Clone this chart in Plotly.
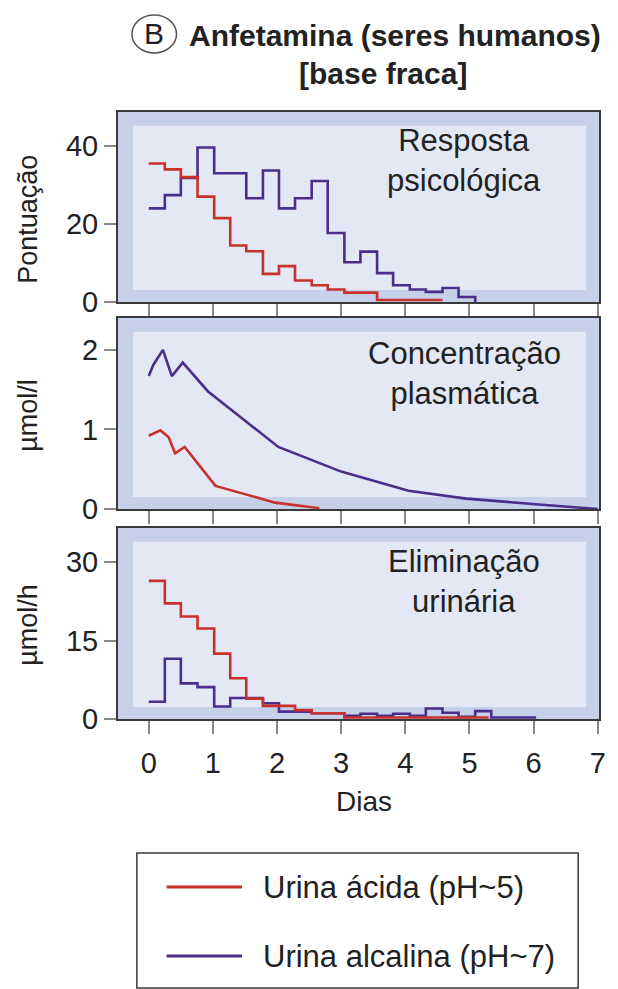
import plotly.graph_objects as go

# ---------------- data ----------------
# Panel 1: psychological response (score), step data (bin start days)
resp_acid_days = [0, 0.25, 0.5, 0.76, 1.02, 1.27, 1.52, 1.78, 2.03, 2.28, 2.54, 2.79, 3.05, 3.56, 4.58]
resp_acid_vals = [35.5, 34, 32, 27, 21.5, 14.5, 13, 7.2, 9.2, 5.5, 4.3, 3.2, 2.4, 0.5, 0.5]
resp_alk_days = [0, 0.25, 0.5, 0.76, 1.02, 1.52, 1.78, 2.03, 2.28, 2.54, 2.79, 3.05, 3.3, 3.56, 3.81,
                 4.07, 4.32, 4.58, 4.83, 5.09]
resp_alk_vals = [24, 27.4, 31.8, 39.6, 33, 26.6, 33.7, 24, 26.6, 31, 17.7, 10.2, 12.9, 7.4, 4.3,
                 3.2, 2.6, 3.6, 1.3, 0]

# Panel 2: plasma concentration (umol/l)
plasma_acid_days = [0, 0.18, 0.31, 0.41, 0.56, 1.04, 1.97, 2.66]
plasma_acid_vals = [0.92, 0.99, 0.90, 0.70, 0.78, 0.29, 0.08, 0.01]
plasma_alk_days = [0, 0.07, 0.22, 0.36, 0.53, 0.92, 2.02, 3.0, 4.05, 4.95, 6.03, 7.0]
plasma_alk_vals = [1.67, 1.81, 2.0, 1.67, 1.84, 1.48, 0.78, 0.47, 0.23, 0.13, 0.06, 0.0]

# Panel 3: urinary elimination (umol/h), step data
urine_acid_days = [0, 0.25, 0.5, 0.76, 1.02, 1.27, 1.52, 1.78, 2.28, 2.54, 3.05, 5.3]
urine_acid_vals = [26.4, 22.1, 19.6, 17.3, 12.5, 7.8, 3.9, 2.5, 1.7, 1.1, 0.3, 0.3]
urine_alk_days = [0, 0.25, 0.5, 0.76, 1.02, 1.27, 1.78, 2.03, 2.54, 3.05, 3.3, 3.56, 3.81, 4.07,
                  4.32, 4.58, 4.83, 5.09, 5.34, 6.04]
urine_alk_vals = [3.3, 11.5, 6.8, 6.1, 2.4, 4.0, 3.0, 1.4, 1.1, 0.6, 1.0, 0.6, 1.0, 0.6,
                  2.0, 1.2, 0.4, 1.5, 0.3, 0.3]

series_names = ["Urina ácida (pH~5)", "Urina alcalina (pH~7)"]
x_ticks = [0, 1, 2, 3, 4, 5, 6, 7]
y1_ticks = [0, 20, 40]
y2_ticks = [0, 1, 2]
y3_ticks = [0, 15, 30]
panel_labels = ["Resposta<br>psicológica", "Concentração<br>plasmática", "Eliminação<br>urinária"]
y_titles = ["Pontuação", "µmol/l", "µmol/h"]

# ---------------- style ----------------
RED = "#c8312c"
PURPLE = "#4b2d8c"
BAND = "#c6d0e8"
INNER = "#e3e8f4"
FRAME = "#3a3a3a"
TICKC = "#888888"
FONT = "Liberation Sans, Arial, sans-serif"
TXT = "#222222"
LW = 2.6

fig = go.Figure()

def add(xs, ys, color, xa, ya, name, group, rank, shape):
    fig.add_trace(go.Scatter(
        x=xs, y=ys, mode="lines", line=dict(color=color, width=LW, shape=shape),
        xaxis=xa, yaxis=ya, name=name, legendgroup=group, legendrank=rank,
        showlegend=False, hoverinfo="skip"))

add(resp_alk_days, resp_alk_vals, PURPLE, "x", "y", series_names[1], "alk", 2, "hv")
add(resp_acid_days, resp_acid_vals, RED, "x", "y", series_names[0], "acid", 1, "hv")
add(plasma_alk_days, plasma_alk_vals, PURPLE, "x2", "y2", series_names[1], "alk", 2, "linear")
add(plasma_acid_days, plasma_acid_vals, RED, "x2", "y2", series_names[0], "acid", 1, "linear")
add(urine_alk_days, urine_alk_vals, PURPLE, "x3", "y3", series_names[1], "alk", 2, "hv")
add(urine_acid_days, urine_acid_vals, RED, "x3", "y3", series_names[0], "acid", 1, "hv")

XR = [-0.48, 7.02]

def xax(anchor, labels):
    return dict(domain=[0, 1], anchor=anchor, range=XR, showgrid=False, zeroline=False,
                showline=True, mirror=True, linecolor=FRAME, linewidth=2,
                ticks="outside", ticklen=13, tickwidth=1.5, tickcolor=TICKC,
                tickvals=x_ticks, showticklabels=labels, ticklabelstandoff=4,
                tickfont=dict(size=29, color=TXT, family=FONT))

def yax(anchor, dom, rng, tv):
    return dict(domain=dom, anchor=anchor, range=rng, showgrid=False, zeroline=False,
                showline=True, mirror=True, linecolor=FRAME, linewidth=2,
                ticks="outside", ticklen=12, tickwidth=1.5, tickcolor=TICKC,
                tickvals=tv, tickfont=dict(size=29, color=TXT, family=FONT))

H = 989
T = 112
B = 270
PH = H - T - B

def py(px):
    return 1 - (px - T) / PH

L = 118
R = 15
PW = 618 - L - R

def pxx(px):
    return (px - L) / PW

doms = [[py(302), 1.0], [py(509), py(318)], [0.0, py(528)]]

shapes = []
for xa, ya in [("x", "y"), ("x2", "y2"), ("x3", "y3")]:
    shapes.append(dict(type="rect", xref=f"{xa} domain", yref=f"{ya} domain",
                       x0=0.031, x1=0.973, y0=0.063, y1=0.928,
                       fillcolor=INNER, line=dict(width=0), layer="below"))

# circled B in title
shapes.append(dict(type="circle", xref="paper", yref="paper",
                   x0=pxx(132), x1=pxx(177), y0=py(53), y1=py(15),
                   line=dict(color="#555555", width=1.5)))
# legend box
shapes.append(dict(type="rect", xref="paper", yref="paper",
                   x0=pxx(137), x1=pxx(582), y0=py(988), y1=py(853),
                   line=dict(color=FRAME, width=1.5), fillcolor="rgba(0,0,0,0)"))
# legend samples
legend_rows = [(887, RED), (956, PURPLE)]
for yy, col in legend_rows:
    shapes.append(dict(type="line", xref="paper", yref="paper",
                       x0=pxx(167), x1=pxx(243), y0=py(yy), y1=py(yy),
                       line=dict(color=col, width=3)))

annotations = []
for (yy, col), name in zip(legend_rows, series_names):
    annotations.append(dict(text=name, xref="paper", yref="paper", x=pxx(262), y=py(yy),
                            xanchor="left", yanchor="middle", showarrow=False,
                            font=dict(size=31, color=TXT, family=FONT)))
label_y = [161, 373, 581]
for txt, yy in zip(panel_labels, label_y):
    annotations.append(dict(text=txt, xref="paper", yref="paper", x=pxx(467), y=py(yy),
                            xanchor="center", yanchor="middle", showarrow=False,
                            font=dict(size=31, color=TXT, family=FONT)))
title_y = [219, 415, 625]
for txt, yy in zip(y_titles, title_y):
    annotations.append(dict(text=txt, xref="paper", yref="paper", x=pxx(27), y=py(yy),
                            xanchor="center", yanchor="middle", textangle=-90, showarrow=False,
                            font=dict(size=27, color=TXT, family=FONT)))
annotations.append(dict(text="Dias", xref="paper", yref="paper", x=pxx(366), y=py(801),
                        xanchor="center", yanchor="middle", showarrow=False,
                        font=dict(size=28, color=TXT, family=FONT)))
annotations.append(dict(text="B", xref="paper", yref="paper", x=pxx(154.5), y=py(34),
                        xanchor="center", yanchor="middle", showarrow=False,
                        font=dict(size=30, color=TXT, family=FONT)))
annotations.append(dict(text="<b>Anfetamina (seres humanos)</b>", xref="paper", yref="paper",
                        x=pxx(188), y=py(36), xanchor="left", yanchor="middle", showarrow=False,
                        font=dict(size=30, color=TXT, family=FONT)))
annotations.append(dict(text="<b>[base fraca]</b>", xref="paper", yref="paper",
                        x=pxx(385), y=py(73), xanchor="center", yanchor="middle", showarrow=False,
                        font=dict(size=30, color=TXT, family=FONT)))

fig.update_layout(
    width=618, height=989,
    margin=dict(l=L, r=R, t=T, b=B, pad=0),
    paper_bgcolor="white", plot_bgcolor=BAND,
    font=dict(family=FONT, color=TXT),
    xaxis=xax("y", False), xaxis2=xax("y2", False), xaxis3=xax("y3", True),
    yaxis=yax("x", doms[0], [0, 48.7], y1_ticks),
    yaxis2=yax("x2", doms[1], [0, 2.4], y2_ticks),
    yaxis3=yax("x3", doms[2], [0, 36.5], y3_ticks),
    shapes=shapes, annotations=annotations,
    showlegend=False,
)

fig.write_html("out.html")
